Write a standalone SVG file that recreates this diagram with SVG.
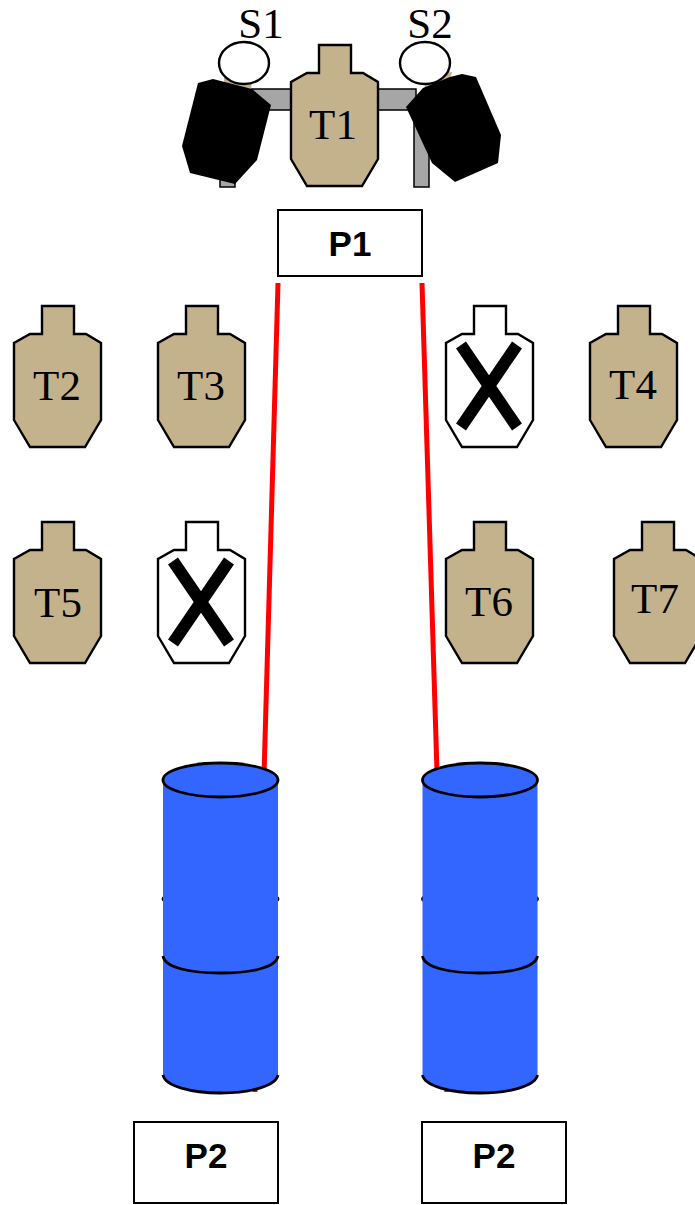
<svg xmlns="http://www.w3.org/2000/svg" width="695" height="1205" viewBox="0 0 695 1205">
<style>
.t{fill:#c4b28d;stroke:#000;stroke-width:2.4;stroke-linejoin:miter}
.w{fill:#fff;stroke:#000;stroke-width:2.4}
.lbl{font-family:"Liberation Serif",serif;font-size:43px;fill:#000;text-anchor:middle}
.box{fill:#fff;stroke:#000;stroke-width:2}
.bt{font-family:"Liberation Sans",sans-serif;font-weight:bold;font-size:35px;fill:#000;text-anchor:middle}
.x{stroke:#000;stroke-width:12;fill:none}
.cyl{fill:#36f}
.arc{fill:none;stroke:#000;stroke-width:2.8}
.red{stroke:#f00;stroke-width:5;fill:none}
.gray{fill:#a6a6a6;stroke:#000;stroke-width:1.5}
.blk{fill:#000}
</style>
<defs>
<path id="sil" d="M28 0H60V28H72L87 37V114L71 141H16L0 114V37L16 28H28Z"/>
<g id="barrel">
<ellipse class="arc" cx="57.5" cy="119" rx="57.5" ry="9"/>
<path class="cyl" d="M0 0H115V295C115 305 90 313 57.5 313S0 305 0 295Z"/>
<path class="arc" d="M0 176C2 188 28 193 57.5 193S113 188 115 176"/>
<path class="arc" d="M0 295C2 306 28 313 57.5 313S113 306 115 295"/>
<ellipse class="cyl" cx="57.5" cy="0" rx="57.5" ry="17" style="stroke:#000;stroke-width:2.8"/>
</g>
</defs>
<g id="connectors">
<line class="red" x1="278" y1="283" x2="255" y2="1092"/>
<line class="red" x1="422" y1="283" x2="446.800" y2="1092"/>
</g>
<g id="stand">
<path class="gray" d="M250 89H416V110H250Z"/>
<rect class="gray" x="220" y="150" width="15" height="37"/>
<rect class="gray" x="414" y="110" width="15" height="77"/>
</g>
<g id="S1">
<path fill="#c4b28d" d="M224 76L252 76L251 92L224 90Z"/>
<path class="blk" d="M198 83L213 79L252 89L271 105L257 160L235 184L190 173L182 146Z"/>
<ellipse class="w" cx="244" cy="63" rx="25" ry="21"/>
<text class="lbl" x="261" y="38">S1</text>
</g>
<g id="S2">
<path fill="#c4b28d" d="M426 76L452 72L448 88L424 92Z"/>
<path class="blk" d="M450 77L462 74L476 77L501 135L498 163L455 182L432 163L406 107L423 88Z"/>
<ellipse class="w" cx="425" cy="63" rx="25" ry="21"/>
<text class="lbl" x="430" y="38">S2</text>
</g>
<g id="T1"><use href="#sil" class="t" x="291" y="45"/><text class="lbl" x="333" y="139">T1</text></g>
<g id="P1"><rect class="box" x="278" y="210" width="144" height="66"/><text class="bt" x="350" y="256">P1</text></g>
<g id="T2"><use href="#sil" class="t" x="14" y="306"/><text class="lbl" x="57" y="400">T2</text></g>
<g id="T3"><use href="#sil" class="t" x="158" y="306"/><text class="lbl" x="201" y="400">T3</text></g>
<g id="X1"><use href="#sil" class="w" x="446" y="306"/><path class="x" d="M461 345L517 427M517 345L461 427"/></g>
<g id="T4"><use href="#sil" class="t" x="590" y="306"/><text class="lbl" x="633" y="399">T4</text></g>
<g id="T5"><use href="#sil" class="t" x="14" y="522"/><text class="lbl" x="58" y="617">T5</text></g>
<g id="X2"><use href="#sil" class="w" x="158" y="522"/><path class="x" d="M173 561L229 643M229 561L173 643"/></g>
<g id="T6"><use href="#sil" class="t" x="446" y="522"/><text class="lbl" x="489" y="616">T6</text></g>
<g id="T7"><use href="#sil" class="t" x="614" y="522"/><text class="lbl" x="655" y="613">T7</text></g>
<g id="barrel1"><use href="#barrel" x="163" y="780"/></g>
<g id="barrel2"><use href="#barrel" x="422.500" y="780"/></g>
<g id="P2a"><rect class="box" x="134" y="1122" width="144" height="81"/><text class="bt" x="206" y="1168">P2</text></g>
<g id="P2b"><rect class="box" x="422" y="1122" width="144" height="81"/><text class="bt" x="494" y="1168">P2</text></g>
</svg>
